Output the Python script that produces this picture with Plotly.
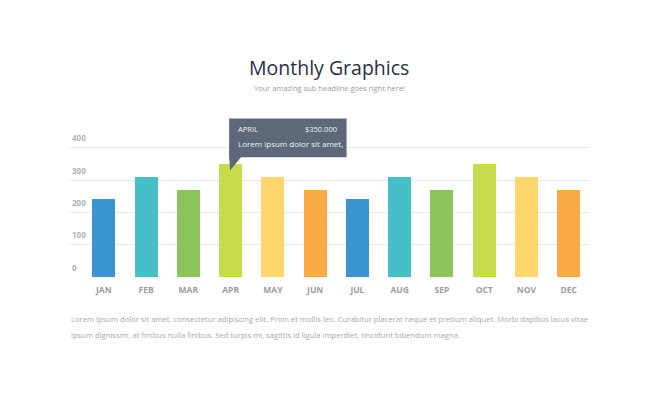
import plotly.graph_objects as go

months = ["JAN", "FEB", "MAR", "APR", "MAY", "JUN", "JUL", "AUG", "SEP", "OCT", "NOV", "DEC"]
values = [240, 310, 270, 350, 310, 270, 240, 310, 270, 350, 310, 270]
bar_colors = ["#3a95d2", "#46bfc7", "#8bc55b", "#c8db4c", "#fed66c", "#f8aa45",
              "#3a95d2", "#46bfc7", "#8bc55b", "#c8db4c", "#fed66c", "#f8aa45"]
y_ticks = [0, 100, 200, 300, 400]
y_tick_labels = ["0", "100", "200", "300", "400"]

title_text = "Monthly Graphics"
subtitle_text = "Your amazing sub headline goes right here!"
body_lines = [
    "Lorem ipsum dolor sit amet, consectetur adipiscing elit. Proin et mollis leo. Curabitur placerat neque et pretium aliquet. Morbi dapibus lacus vitae",
    "ipsum dignissim, at finibus nulla finibus. Sed turpis mi, sagittis id ligula imperdiet, tincidunt bibendum magna.",
]
tip_index = 3
tip_month = "APRIL"
tip_value = "$350.000"
tip_text = "Lorem ipsum dolor sit amet,"

FONT = "Open Sans"
xs = list(range(len(months)))

fig = go.Figure()
fig.add_trace(go.Bar(
    x=xs, y=values, width=0.545,
    marker=dict(color=bar_colors, line=dict(width=0)),
    hoverinfo="skip",
))

# page body adds an 8px offset; compensate in the margins
OFF = 8
W, H = 650, 397
ml, mt = 69 - OFF, 108.5 - OFF
mr = W - (589 - OFF)
mb = H - (276.7 - OFF)

fig.update_layout(
    width=W, height=H,
    margin=dict(l=ml, r=mr, t=mt, b=mb, pad=0),
    paper_bgcolor="white", plot_bgcolor="white",
    showlegend=False,
    bargap=0,
    font=dict(family=FONT),
    xaxis=dict(
        range=[-0.824, 11.48], tickmode="array", tickvals=xs, ticktext=months,
        showgrid=False, zeroline=False, showline=False, ticks="",
        tickfont=dict(family=FONT, size=8.5, color="#9d9d9d", weight="bold"),
        ticklabelstandoff=6,
    ),
    yaxis=dict(
        range=[0, 520], tickmode="array", tickvals=y_ticks,
        showgrid=True, gridcolor="#e9e9e9", gridwidth=1, zeroline=False,
        showline=False, ticks="", showticklabels=False,
    ),
)

for v, lab in zip(y_ticks, y_tick_labels):
    fig.add_annotation(text=lab, x=0, y=v, xref="paper", yref="y",
                       xanchor="left", yanchor="middle", xshift=0.5, yshift=10,
                       showarrow=False,
                       font=dict(family=FONT, size=8, color="#b0b0b0", weight="bold"))

plot_h = H - mt - mb
def py(p):
    # p: pixel y in the reference (visible window coordinates)
    return (H - mb - (p - OFF)) / plot_h

fig.add_annotation(text=title_text, x=0.5, y=py(66.7), xref="paper", yref="paper",
                   xanchor="center", yanchor="middle", showarrow=False,
                   font=dict(family=FONT, size=19.5, color="#27303f"))
fig.add_annotation(text=subtitle_text, x=0.5, y=py(87.5), xref="paper", yref="paper",
                   xanchor="center", yanchor="middle", showarrow=False,
                   font=dict(family=FONT, size=7.5, color="#9a9a9a"))
for i, line in enumerate(body_lines):
    fig.add_annotation(text=line, x=0, y=py(319 + 16 * i), xref="paper", yref="paper",
                       xanchor="left", yanchor="middle", showarrow=False,
                       font=dict(family=FONT, size=7.65, color="#a8a8a8"))

# tooltip
tip_y = values[tip_index]
tip_color = "#5d6979"
fig.add_shape(type="path", xref="x", yref="y", xsizemode="pixel", ysizemode="pixel",
              xanchor=tip_index, yanchor=tip_y,
              path="M -1.5 6.6 L 116 6.6 L 116 45.3 L -1.5 45.3 Z",
              fillcolor=tip_color, line=dict(width=0), layer="above")
fig.add_shape(type="path", xref="x", yref="y", xsizemode="pixel", ysizemode="pixel",
              xanchor=tip_index, yanchor=tip_y,
              path="M -1.5 7 L 10.5 7 L -0.5 -6.7 Z",
              fillcolor=tip_color, line=dict(width=0), layer="above")
fig.add_annotation(text=tip_month, x=tip_index, y=tip_y, xref="x", yref="y",
                   xanchor="left", yanchor="middle", xshift=5.5, yshift=35.3,
                   showarrow=False, font=dict(family=FONT, size=7.5, color="#eef0f3"))
fig.add_annotation(text=tip_value, x=tip_index, y=tip_y, xref="x", yref="y",
                   xanchor="right", yanchor="middle", xshift=108.5, yshift=35.3,
                   showarrow=False, font=dict(family=FONT, size=7.5, color="#eef0f3"))
fig.add_annotation(text=tip_text, x=tip_index, y=tip_y, xref="x", yref="y",
                   xanchor="left", yanchor="middle", xshift=5.5, yshift=20.3,
                   showarrow=False, font=dict(family=FONT, size=8, color="#eef0f3"))

fig.write_html("out.html")
